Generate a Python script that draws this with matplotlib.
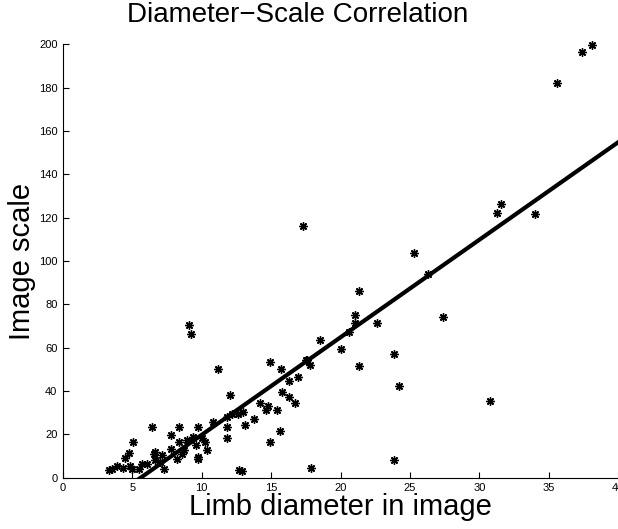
import numpy as np
import matplotlib
matplotlib.use("Agg")
import matplotlib.pyplot as plt

# Diámetro del limbo (px) vs escala de imagen
diametro = [
    3.3, 3.5, 3.9, 4.3, 4.5, 4.74, 4.8, 4.98, 5.05, 5.46, 5.7, 6.05, 6.4, 6.55,
    6.6, 6.65, 7.0, 7.1, 7.25, 7.75, 7.8, 8.2, 8.35, 8.35, 8.6, 8.7, 8.95, 9.07,
    9.2, 9.4, 9.55, 9.7, 9.7, 9.7, 10.0, 10.2, 10.4, 10.8, 11.2, 11.8, 11.8,
    11.8, 12.0, 12.2, 12.6, 12.7, 12.9, 12.95, 13.1, 13.75, 14.2, 14.6, 14.8,
    14.9, 14.93, 15.4, 15.66, 15.7, 15.8, 16.26, 16.3, 16.75, 16.9, 17.26,
    17.5, 17.6, 17.8, 17.9, 18.5, 20.0, 20.6, 21.06, 21.06, 21.3, 21.35, 22.6,
    23.85, 23.85, 24.2, 25.3, 26.3, 27.4, 30.8, 31.29, 31.58, 34.0, 35.6,
    37.4, 38.1,
]
escala = [
    3.5, 4.2, 5.4, 4.5, 9.3, 11.6, 5.3, 3.8, 16.4, 4.2, 6.5, 6.2, 23.4, 11.1,
    11.9, 8.1, 7.3, 10.4, 4.2, 13.4, 19.6, 8.8, 23.4, 16.5, 11.1, 12.7, 17.3,
    70.6, 66.4, 18.8, 15.0, 23.4, 9.6, 8.5, 18.5, 16.5, 12.7, 25.7, 50.3, 23.4,
    18.5, 28.0, 38.4, 29.6, 29.6, 3.5, 3.1, 30.3, 24.5, 27.3, 34.5, 31.4, 33.3,
    16.4, 53.4, 31.4, 21.4, 50.3, 39.5, 44.5, 37.3, 34.5, 46.3, 116.4, 54.5,
    54.5, 51.8, 4.3, 63.4, 59.4, 67.3, 75.3, 71.3, 51.4, 86.4, 71.3, 57.3, 8.3,
    42.4, 103.6, 93.8, 74.4, 35.2, 122.4, 126.5, 121.5, 182.4, 196.5, 199.6,
]

# Recta de ajuste
pendiente = 4.5
intercepto = -25.2
x_recta = np.array([0, 40])

fig = plt.figure(figsize=(6.18, 5.29), dpi=100)
ax = fig.add_axes([0.102, 0.097, 0.898, 0.819])

ax.plot(diametro, escala, linestyle="none", marker=(8, 2, 0), markersize=6,
        markeredgewidth=1, color="black", clip_on=False)
ax.plot(x_recta, pendiente * x_recta + intercepto, color="black", lw=3)

ax.set_xlim(0, 40)
ax.set_ylim(0, 200)
ax.set_xticks(range(0, 41, 5))
ax.set_yticks(range(0, 201, 20))

fuente = ["Liberation Sans", "DejaVu Sans"]
fig.text(0.482, 0.997, "Diameter\u2212Scale Correlation", fontsize=20,
         family=fuente, ha="center", va="top")
ax.set_xlabel("Limb diameter in image", fontsize=21, family=fuente, labelpad=0)
ax.set_ylabel("Image scale", fontsize=21, family=fuente, labelpad=2)

for s in ["top", "right"]:
    ax.spines[s].set_visible(False)
ax.tick_params(direction="in", length=4, labelsize=8, pad=4)
for lab in ax.get_xticklabels() + ax.get_yticklabels():
    lab.set_family(fuente)

fig.savefig("out.png", dpi=100)
